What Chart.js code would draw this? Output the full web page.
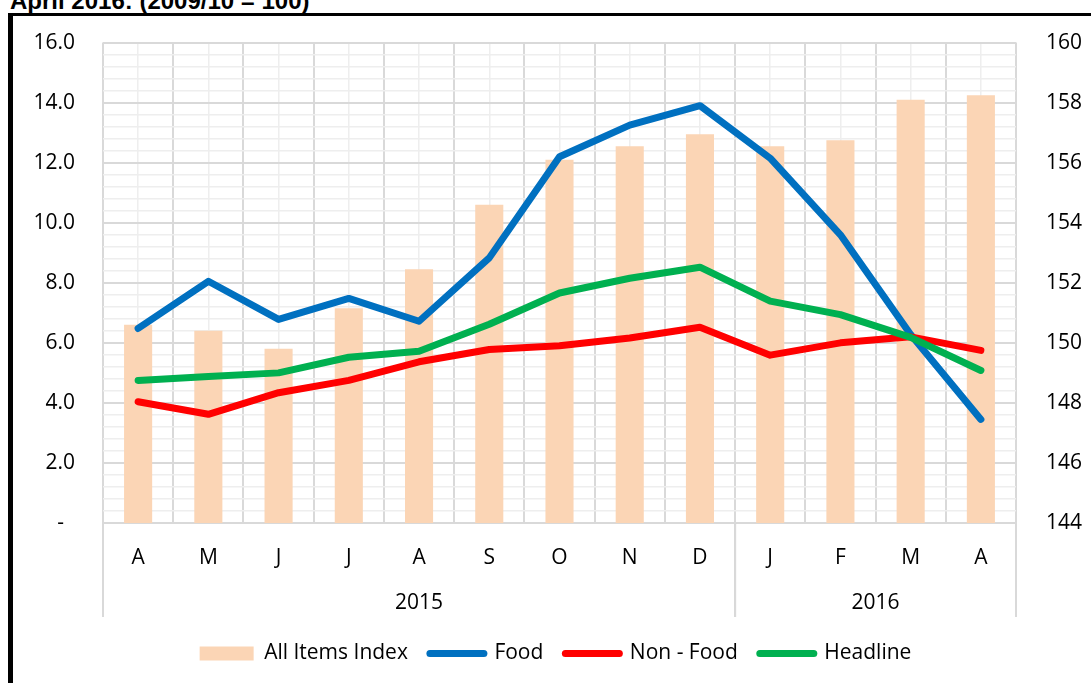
<!DOCTYPE html>
<html>
<head>
<meta charset="utf-8">
<script src="https://cdn.jsdelivr.net/npm/chart.js@4.4.1/dist/chart.umd.min.js"></script>
<style>
  html, body { margin: 0; padding: 0; background: #fff; overflow: hidden; }
  #title { position: absolute; left: 10px; top: -11px; font: bold 24px "Liberation Sans", Arial, sans-serif; line-height: 1; white-space: nowrap; color: #000; }
  #frame { position: absolute; left: 8px; top: 13px; right: -10px; bottom: -10px; border-left: 5px solid #000; border-top: 3px solid #000; }
  #chart { position: absolute; left: 0; top: 0; }
</style>
</head>
<body>
<div id="title">April 2016: (2009/10 = 100)</div>
<div id="frame"></div>
<canvas id="chart" width="1091" height="683"></canvas>
<script>
// categories
const months = ['A', 'M', 'J', 'J', 'A', 'S', 'O', 'N', 'D', 'J', 'F', 'M', 'A'];
const years = ['2015', '2016'];
const yearSpans = [9, 4];

// series (left axis: % change, right axis: index)
const allItemsIndex = [150.6, 150.4, 149.8, 151.15, 152.45, 154.6, 156.1, 156.55, 156.95, 156.55, 156.75, 158.1, 158.25];
const food = [6.48, 8.05, 6.78, 7.48, 6.72, 8.83, 12.2, 13.25, 13.9, 12.15, 9.6, 6.28, 3.45];
const nonFood = [4.04, 3.62, 4.34, 4.75, 5.37, 5.78, 5.9, 6.16, 6.52, 5.59, 6.0, 6.2, 5.75];
const headline = [4.75, 4.88, 5.0, 5.52, 5.72, 6.62, 7.66, 8.15, 8.52, 7.39, 6.94, 6.18, 5.08];

// axis ranges
const leftRange = [0, 16];
const leftMajor = 2;
const leftMinor = 0.4;
const rightRange = [144, 160];
const rightStep = 2;

const FONT = '"Open Sans", sans-serif';
const MAJOR = '#d9d9d9';
const MINOR = '#eeeeee';

Chart.defaults.font.family = FONT;
Chart.defaults.font.size = 21;
Chart.defaults.color = '#000';

const isMajor = v => Math.abs(v / leftMajor - Math.round(v / leftMajor)) < 1e-6;

// second row of the category axis: years with separators
const yearRow = {
    id: 'yearRow',
    afterDraw(chart) {
        const x = chart.scales.x;
        const area = chart.chartArea;
        const ctx = chart.ctx;
        const half = (x.getPixelForValue(1) - x.getPixelForValue(0)) / 2;
        ctx.save();
        ctx.strokeStyle = MAJOR;
        ctx.lineWidth = 2;
        ctx.fillStyle = '#000';
        ctx.font = '21px ' + FONT;
        ctx.textAlign = 'center';
        ctx.textBaseline = 'middle';
        let start = 0;
        yearSpans.forEach((n, i) => {
            const left = x.getPixelForValue(start) - half;
            const right = x.getPixelForValue(start + n - 1) + half;
            ctx.beginPath();
            ctx.moveTo(left, area.bottom);
            ctx.lineTo(left, area.bottom + 94);
            ctx.moveTo(right, area.bottom);
            ctx.lineTo(right, area.bottom + 94);
            ctx.stroke();
            ctx.fillText(years[i], (left + right) / 2, area.bottom + 80);
            start += n;
        });
        ctx.restore();
    }
};

const lineStyle = color => ({
    type: 'line',
    yAxisID: 'y',
    borderColor: color,
    backgroundColor: color,
    borderWidth: 7,
    borderCapStyle: 'round',
    borderJoinStyle: 'round',
    pointRadius: 0,
    tension: 0
});

new Chart(document.getElementById('chart'), {
    type: 'bar',
    data: {
        labels: months,
        datasets: [
            {
                label: 'All Items Index',
                data: allItemsIndex,
                yAxisID: 'y1',
                backgroundColor: '#fbd5b5',
                categoryPercentage: 1,
                barPercentage: 0.4,
                order: 4
            },
            Object.assign({ label: 'Food', data: food, order: 3 }, lineStyle('#0070c0')),
            Object.assign({ label: 'Non - Food', data: nonFood, order: 2 }, lineStyle('#ff0000')),
            Object.assign({ label: 'Headline', data: headline, order: 1 }, lineStyle('#00b050'))
        ]
    },
    options: {
        responsive: false,
        animation: false,
        layout: { padding: { left: 20, right: 0, top: 41, bottom: 9 } },
        scales: {
            x: {
                type: 'category',
                offset: true,
                grid: { offset: true, color: MAJOR, lineWidth: 2, drawTicks: false },
                border: { display: true, color: MAJOR, width: 2 },
                ticks: { padding: 22, autoSkip: false, maxRotation: 0 },
                afterFit: s => { s.height = 98; }
            },
            xMinor: {
                type: 'category',
                labels: months,
                position: 'bottom',
                offset: true,
                grid: { offset: false, color: MINOR, lineWidth: 1.5, drawTicks: false },
                border: { display: false },
                ticks: { display: false },
                afterFit: s => { s.height = 0; }
            },
            y: {
                position: 'left',
                min: leftRange[0],
                max: leftRange[1],
                grid: {
                    drawTicks: false,
                    color: c => isMajor(c.tick.value) ? MAJOR : MINOR,
                    lineWidth: c => isMajor(c.tick.value) ? 2 : 1.5
                },
                border: { display: false },
                ticks: {
                    stepSize: leftMinor,
                    autoSkip: false,
                    padding: 28,
                    callback: v => isMajor(v) ? (Math.abs(v) < 1e-9 ? '-  ' : v.toFixed(1)) : ''
                },
                afterFit: s => { s.width = 83; }
            },
            y1: {
                position: 'right',
                min: rightRange[0],
                max: rightRange[1],
                grid: { display: false, drawTicks: false },
                border: { display: false },
                ticks: { stepSize: rightStep, padding: 30 },
                afterFit: s => { s.width = 75; }
            }
        },
        plugins: {
            tooltip: { enabled: false },
            legend: {
                position: 'bottom',
                labels: {
                    usePointStyle: true,
                    pointStyleWidth: 54,
                    boxHeight: 14,
                    padding: 22,
                    color: '#000',
                    font: { size: 21 },
                    sort: (a, b) => a.datasetIndex - b.datasetIndex,
                    generateLabels(chart) {
                        const items = Chart.defaults.plugins.legend.labels.generateLabels(chart);
                        items.forEach(item => {
                            const ds = chart.data.datasets[item.datasetIndex];
                            item.text = ds.label;
                            if (ds.type === 'line') {
                                item.pointStyle = 'line';
                                item.lineWidth = 7;
                                item.lineCap = 'round';
                                item.strokeStyle = ds.borderColor;
                            } else {
                                item.pointStyle = 'rect';
                                item.lineWidth = 0;
                                item.fillStyle = ds.backgroundColor;
                            }
                        });
                        return items;
                    }
                }
            }
        }
    },
    plugins: [yearRow]
});
</script>
</body>
</html>
